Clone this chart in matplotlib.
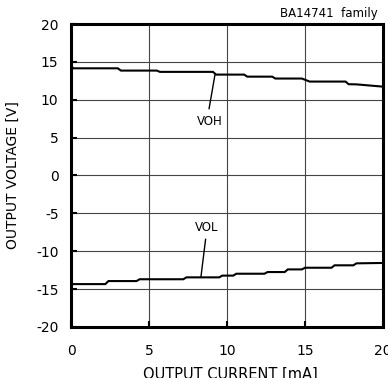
import matplotlib
matplotlib.use("Agg")
import matplotlib.pyplot as plt

plt.rcParams["axes.unicode_minus"] = False

# Data
voh_current = [0.0, 0.1, 3.0, 3.2, 5.5, 5.7, 9.1, 9.3, 11.1, 11.3, 12.9, 13.1, 14.8, 15.3, 17.6, 17.8, 18.3, 20.0]
voh_voltage = [15.0, 14.15, 14.15, 13.85, 13.85, 13.68, 13.68, 13.32, 13.32, 13.05, 13.05, 12.8, 12.8, 12.4, 12.4, 12.05, 12.03, 11.73]

vol_current = [0.0, 0.1, 2.2, 2.4, 4.2, 4.4, 7.2, 7.4, 9.5, 9.7, 10.4, 10.6, 12.4, 12.6, 13.7, 13.9, 14.8, 15.0, 16.7, 16.9, 18.1, 18.3, 20.0]
vol_voltage = [-14.9, -14.34, -14.34, -13.94, -13.94, -13.7, -13.7, -13.45, -13.45, -13.22, -13.22, -12.97, -12.97, -12.75, -12.75, -12.4, -12.4, -12.18, -12.18, -11.86, -11.86, -11.6, -11.55]

x_ticks = [0, 5, 10, 15, 20]
y_ticks = [-20, -15, -10, -5, 0, 5, 10, 15, 20]

fig = plt.figure(figsize=(3.88, 3.78), dpi=100)
ax = fig.add_axes([0.183, 0.135, 0.804, 0.8015])

ax.plot(voh_current, voh_voltage, color="black", lw=1.5, solid_joinstyle="miter")
ax.plot(vol_current, vol_voltage, color="black", lw=1.5, solid_joinstyle="miter")

ax.set_xlim(0, 20)
ax.set_ylim(-20, 20)
ax.set_xticks(x_ticks)
ax.set_yticks(y_ticks)
ax.grid(True, color="#444444", lw=0.8)
for s in ax.spines.values():
    s.set_linewidth(2.2)
ax.tick_params(direction="in", length=4, width=1.5, labelsize=10)
ax.tick_params(axis="x", pad=12)
ax.tick_params(axis="y", pad=9)

ax.set_xlabel("OUTPUT CURRENT [mA]", fontsize=10.5)
ax.xaxis.set_label_coords(0.51, -0.132)
ax.xaxis.label.set_va("top")
ax.set_ylabel("OUTPUT VOLTAGE [V]", fontsize=10)
ax.yaxis.set_label_coords(-0.186, 0.5)
ax.yaxis.label.set_va("center")

# annotations
ax.annotate("", xy=(9.23, 13.3), xytext=(8.85, 8.8),
            arrowprops=dict(arrowstyle="-", color="black", lw=1.0, shrinkA=0, shrinkB=0))
ax.text(8.9, 7.1, "VOH", fontsize=8.5, ha="center", va="center")
ax.annotate("", xy=(8.33, -13.4), xytext=(8.63, -8.4),
            arrowprops=dict(arrowstyle="-", color="black", lw=1.0, shrinkA=0, shrinkB=0))
ax.text(8.7, -6.83, "VOL", fontsize=8.5, ha="center", va="center")

fig.text(378 / 388, 1 - 14 / 378, "BA14741  family", fontsize=8.5, ha="right", va="center")

fig.savefig("out.png", dpi=100)
